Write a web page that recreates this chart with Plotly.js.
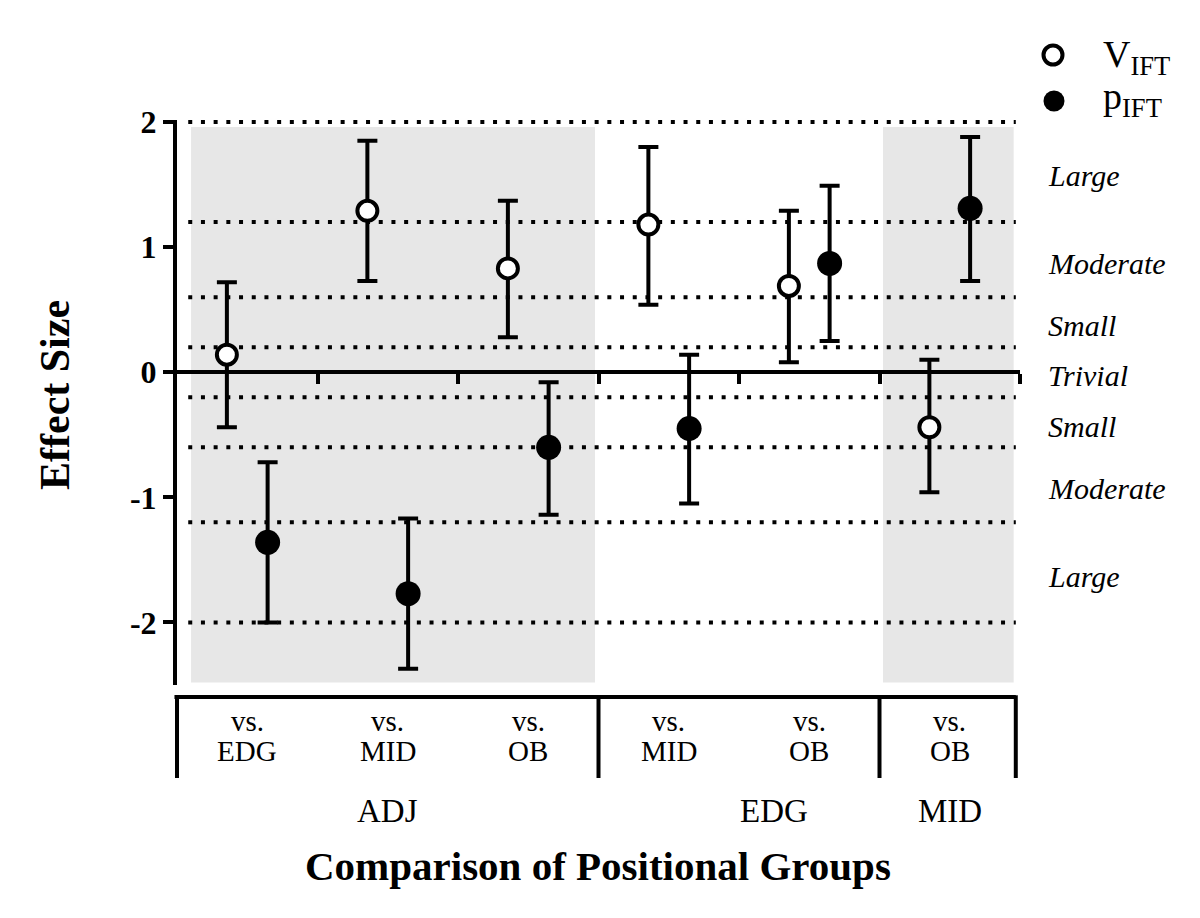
<!DOCTYPE html>
<html>
<head>
<meta charset="utf-8">
<script src="https://cdn.plot.ly/plotly-3.0.1.min.js"></script>
<style>html,body{margin:0;padding:0;background:#fff;}#chart{width:1200px;height:918px;}</style>
</head>
<body>
<div id="chart"></div>
<script>
// ---------- data ----------
const comparedWith = ['EDG', 'MID', 'OB', 'MID', 'OB', 'OB'];
const groupNames = ['ADJ', 'EDG', 'MID'];
const groupSizes = [3, 2, 1];
const vIFT      = [0.14, 1.29, 0.83, 1.18, 0.69, -0.44];
const vIFTUpper = [0.72, 1.85, 1.37, 1.80, 1.29, 0.10];
const vIFTLower = [-0.44, 0.73, 0.28, 0.54, 0.08, -0.96];
const pIFT      = [-1.36, -1.77, -0.60, -0.45, 0.87, 1.31];
const pIFTUpper = [-0.72, -1.17, -0.08, 0.14, 1.49, 1.88];
const pIFTLower = [-2.00, -2.37, -1.14, -1.05, 0.25, 0.73];
const thresholds = [2, 1.2, 0.6, 0.2, -0.2, -0.6, -1.2, -2];
const magnitudeLabels = ['Large', 'Moderate', 'Small', 'Trivial', 'Small', 'Moderate', 'Large'];
const seriesNames = ['V<sub>IFT</sub>', 'p<sub>IFT</sub>'];

// ---------- layout helpers ----------
const FONT = "'Liberation Serif', 'Times New Roman', Times, serif";
const W = 1200, H = 918;
const M = {l: 177, r: 180, t: 120, b: 233};
const PW = W - M.l - M.r, PH = H - M.t - M.b;
const YR = [-2.5, 2.016];
const px2paperX = px => (px - M.l) / PW;
const py2paperY = py => (H - M.b - py) / PH;
const NCAT = comparedWith.length;
const OFF = 0.145;

const xV = comparedWith.map((_, i) => i + 0.5 - OFF);
const xP = comparedWith.map((_, i) => i + 0.5 + OFF);

const traces = [
  {
    x: xV, y: vIFT, type: 'scatter', mode: 'markers', cliponaxis: false,
    error_y: {type: 'data', symmetric: false,
      array: vIFTUpper.map((u, i) => u - vIFT[i]),
      arrayminus: vIFTLower.map((l, i) => vIFT[i] - l),
      color: '#000', thickness: 4, width: 10},
    marker: {symbol: 'circle', size: 20, color: '#fff', line: {color: '#000', width: 4}},
    showlegend: false, hoverinfo: 'y'
  },
  {
    x: xP, y: pIFT, type: 'scatter', mode: 'markers', cliponaxis: false,
    error_y: {type: 'data', symmetric: false,
      array: pIFTUpper.map((u, i) => u - pIFT[i]),
      arrayminus: pIFTLower.map((l, i) => pIFT[i] - l),
      color: '#000', thickness: 4, width: 10},
    marker: {symbol: 'circle', size: 25, color: '#000', line: {width: 0}},
    showlegend: false, hoverinfo: 'y'
  }
];

const shapes = [];
// shaded group panels (ADJ and MID)
shapes.push({type: 'rect', xref: 'x', yref: 'y', x0: 0.1, x1: 2.975, y0: -2.48, y1: 1.96,
  fillcolor: '#e7e7e7', line: {width: 0}, layer: 'below'});
shapes.push({type: 'rect', xref: 'x', yref: 'y', x0: 5.025, x1: 5.955, y0: -2.48, y1: 1.96,
  fillcolor: '#e7e7e7', line: {width: 0}, layer: 'below'});
// dotted magnitude thresholds
thresholds.forEach(t => shapes.push({type: 'line', xref: 'x', yref: 'y', x0: 0.08, x1: 5.97, y0: t, y1: t,
  line: {color: '#000', width: 4, dash: '4px,8.7px'}, layer: 'below'}));
// grouping box under the axis
const boxTop = py2paperY(697), boxBot = py2paperY(778);
shapes.push({type: 'line', xref: 'paper', yref: 'paper', x0: -0.003, x1: 5.97 / NCAT, y0: boxTop, y1: boxTop,
  line: {color: '#000', width: 4}});
let acc = 0;
const bounds = [0];
groupSizes.forEach(s => { acc += s; bounds.push(acc); });
bounds.forEach((b, k) => {
  const xp = (k === bounds.length - 1 ? 5.97 : b) / NCAT;
  shapes.push({type: 'line', xref: 'paper', yref: 'paper', x0: xp, x1: xp, y0: boxTop + 0.003, y1: boxBot,
    line: {color: '#000', width: 4}});
});
// legend symbols
shapes.push({type: 'circle', xref: 'paper', yref: 'paper', xsizemode: 'pixel', ysizemode: 'pixel',
  xanchor: px2paperX(1053), yanchor: py2paperY(55), x0: -9.5, x1: 9.5, y0: -9.5, y1: 9.5,
  fillcolor: '#fff', line: {color: '#000', width: 4}});
shapes.push({type: 'circle', xref: 'paper', yref: 'paper', xsizemode: 'pixel', ysizemode: 'pixel',
  xanchor: px2paperX(1054), yanchor: py2paperY(101), x0: -10.5, x1: 10.5, y0: -10.5, y1: 10.5,
  fillcolor: '#000', line: {width: 0}});

const annotations = [];
comparedWith.forEach((c, i) => {
  annotations.push({xref: 'x', yref: 'paper', x: i + 0.5, y: py2paperY(721), text: 'vs.', showarrow: false,
    font: {family: FONT, size: 29, color: '#000'}, xanchor: 'center', yanchor: 'middle'});
  annotations.push({xref: 'x', yref: 'paper', x: i + 0.5, y: py2paperY(751), text: c, showarrow: false,
    font: {family: FONT, size: 29, color: '#000'}, xanchor: 'center', yanchor: 'middle'});
});
const groupLabelX = [1.5, 4.25, 5.5];
groupNames.forEach((g, k) => annotations.push({xref: 'x', yref: 'paper', x: groupLabelX[k], y: py2paperY(811),
  text: g, showarrow: false, font: {family: FONT, size: 33, color: '#000'}, xanchor: 'center', yanchor: 'middle'}));
// magnitude labels at the middle of each band
magnitudeLabels.forEach((m, k) => annotations.push({xref: 'paper', yref: 'y', x: px2paperX(1046),
  y: (thresholds[k] + thresholds[k + 1]) / 2 - 0.03, text: '<i>' + m + '</i>', showarrow: false,
  font: {family: FONT, size: 30, color: '#000'}, xanchor: 'left', yanchor: 'middle'}));
// axis titles
annotations.push({xref: 'paper', yref: 'paper', x: px2paperX(598), y: py2paperY(866),
  text: 'Comparison of Positional Groups', showarrow: false,
  font: {family: FONT, size: 41, color: '#000', weight: 'bold'}, xanchor: 'center', yanchor: 'middle'});
annotations.push({xref: 'paper', yref: 'paper', x: px2paperX(55), y: py2paperY(395),
  text: 'Effect Size', showarrow: false, textangle: -90,
  font: {family: FONT, size: 42, color: '#000', weight: 'bold'}, xanchor: 'center', yanchor: 'middle'});
// legend texts
annotations.push({xref: 'paper', yref: 'paper', x: px2paperX(1101), y: py2paperY(57), text: seriesNames[0],
  showarrow: false, font: {family: FONT, size: 38, color: '#000'}, xanchor: 'left', yanchor: 'middle'});
annotations.push({xref: 'paper', yref: 'paper', x: px2paperX(1101), y: py2paperY(99), text: seriesNames[1],
  showarrow: false, font: {family: FONT, size: 38, color: '#000'}, xanchor: 'left', yanchor: 'middle'});

const layout = {
  width: W, height: H,
  margin: M,
  paper_bgcolor: '#fff', plot_bgcolor: 'rgba(0,0,0,0)',
  showlegend: false,
  font: {family: FONT, color: '#000'},
  xaxis: {range: [0, NCAT], anchor: 'free', position: (0 - YR[0]) / (YR[1] - YR[0]),
    showline: true, linewidth: 4, linecolor: '#000', ticks: 'outside',
    tickvals: comparedWith.map((_, i) => i + 1), ticklen: 10, tickwidth: 4, tickcolor: '#000',
    showticklabels: false, showgrid: false, zeroline: false, fixedrange: true},
  yaxis: {range: YR, showline: true, linewidth: 4, linecolor: '#000', ticks: 'outside',
    tickvals: [-2, -1, 0, 1, 2], ticktext: ['-2', '-1', '0', '1', '2'], ticklen: 10, tickwidth: 4, tickcolor: '#000',
    tickfont: {family: FONT, size: 32, color: '#000', weight: 'bold'},
    showgrid: false, zeroline: false, fixedrange: true},
  shapes: shapes,
  annotations: annotations
};

Plotly.newPlot('chart', traces, layout, {displayModeBar: false, staticPlot: true});
</script>
</body>
</html>
